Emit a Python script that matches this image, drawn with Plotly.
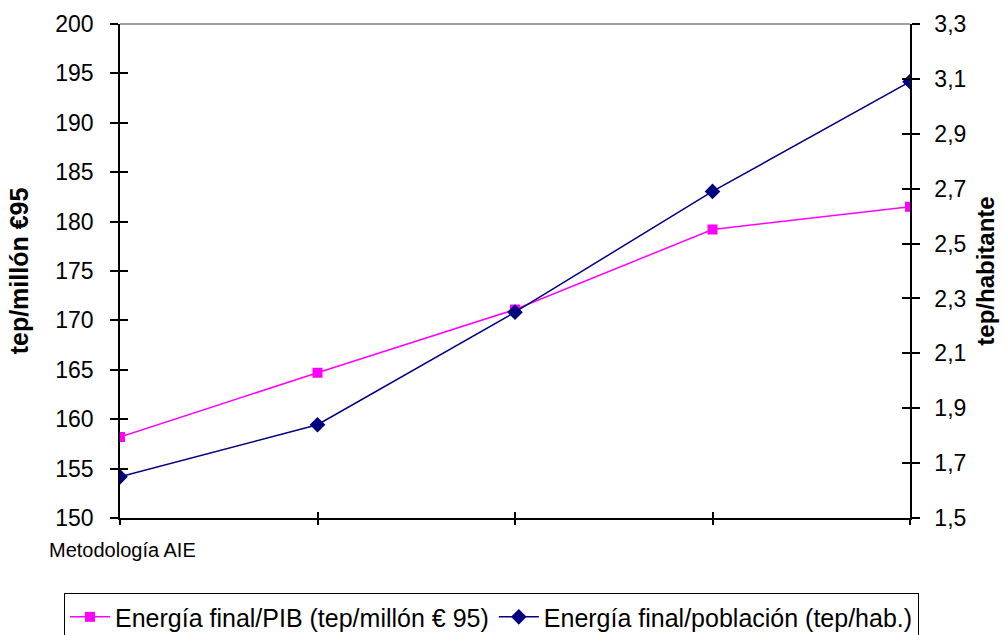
import plotly.graph_objects as go

# Data (x categories have no printed labels in the reference)
categories = ["P1", "P2", "P3", "P4", "P5"]
pib_values = [158.2, 164.7, 171.1, 179.2, 181.5]        # tep/millón €95 (left axis)
poblacion_values = [1.65, 1.84, 2.25, 2.69, 3.09]       # tep/habitante (right axis)
left_ticks = [150, 155, 160, 165, 170, 175, 180, 185, 190, 195, 200]
right_ticks = [1.5, 1.7, 1.9, 2.1, 2.3, 2.5, 2.7, 2.9, 3.1, 3.3]

FONT = "Liberation Sans, Arial, sans-serif"

fig = go.Figure()
fig.add_trace(go.Scatter(
    x=categories, y=pib_values, name="Energía final/PIB (tep/millón € 95)",
    mode="lines+markers", line=dict(color="#FF00FF", width=1.5),
    marker=dict(symbol="square", size=10, color="#FF00FF"),
    xaxis="x", yaxis="y"))
fig.add_trace(go.Scatter(
    x=categories, y=poblacion_values, name="Energía final/población (tep/hab.)",
    mode="lines+markers", line=dict(color="#000080", width=1.5),
    marker=dict(symbol="diamond", size=12, color="#000080"),
    xaxis="x", yaxis="y2"))
# helper traces so the inner-tick overlay axes are drawn
fig.add_trace(go.Scatter(x=categories, y=pib_values, mode="none", showlegend=False,
                         hoverinfo="skip", xaxis="x2", yaxis="y3"))
fig.add_trace(go.Scatter(x=categories, y=poblacion_values, mode="none", showlegend=False,
                         hoverinfo="skip", xaxis="x", yaxis="y4"))

axis_common = dict(showgrid=False, zeroline=False, linecolor="black", linewidth=1.5,
                   tickcolor="black", tickwidth=1.5,
                   tickfont=dict(family=FONT, size=23, color="black"))

fig.update_layout(
    width=1004, height=635,
    margin=dict(l=120, r=94, t=24, b=117, autoexpand=False),
    paper_bgcolor="white", plot_bgcolor="white",
    separators=",.",
    font=dict(family=FONT, color="black"),
    xaxis=dict(type="category", categoryorder="array", categoryarray=categories,
               range=[0, 4], showticklabels=False, ticks="outside", ticklen=5,
               showline=True, showgrid=False, zeroline=False, linecolor="black",
               linewidth=1.5, tickcolor="black", tickwidth=1.5),
    xaxis2=dict(type="category", categoryorder="array", categoryarray=categories,
                range=[0, 4], overlaying="x", anchor="y", side="bottom",
                showticklabels=False, ticks="inside", ticklen=6, showline=False,
                showgrid=False, zeroline=False, tickcolor="black", tickwidth=1.5),
    yaxis=dict(range=[150, 200], tickvals=left_ticks, ticks="outside", ticklen=8,
               showline=True, ticklabelstandoff=12,
               title=dict(text="<b>tep/millón €95</b>", standoff=20,
                          font=dict(family=FONT, size=25, color="black")),
               **axis_common),
    yaxis2=dict(range=[1.5, 3.3], tickvals=right_ticks, tickformat=".1f",
                overlaying="y", side="right", anchor="x", ticks="outside", ticklen=8,
                showline=True, ticklabelstandoff=10,
                title=dict(text="<b>tep/habitante</b>", standoff=12,
                           font=dict(family=FONT, size=24, color="black")),
                **axis_common),
    yaxis3=dict(range=[150, 200], tickvals=left_ticks, overlaying="y", side="left",
                anchor="x2", ticks="inside", ticklen=8, showticklabels=False,
                showline=False, showgrid=False, zeroline=False,
                tickcolor="black", tickwidth=1.5),
    yaxis4=dict(range=[1.5, 3.3], tickvals=right_ticks, overlaying="y", side="right",
                anchor="x", ticks="inside", ticklen=8, showticklabels=False,
                showline=False, showgrid=False, zeroline=False,
                tickcolor="black", tickwidth=1.5),
    legend=dict(orientation="h", x=-0.0709, xanchor="left", y=-0.152, yanchor="top",
                bordercolor="black", borderwidth=1, bgcolor="white",
                font=dict(family=FONT, size=25, color="black"),
                itemwidth=40, traceorder="normal"),
    showlegend=True,
)

# gray top border of the plot area
fig.add_shape(type="line", xref="paper", yref="paper", x0=0, x1=1, y0=1, y1=1,
              line=dict(color="#808080", width=1.5))

fig.add_annotation(text="Metodología AIE", xref="paper", yref="paper",
                   x=-0.0924, y=-0.0648, xanchor="left", yanchor="middle",
                   showarrow=False, font=dict(family=FONT, size=20, color="black"))

fig.write_html("out.html")
